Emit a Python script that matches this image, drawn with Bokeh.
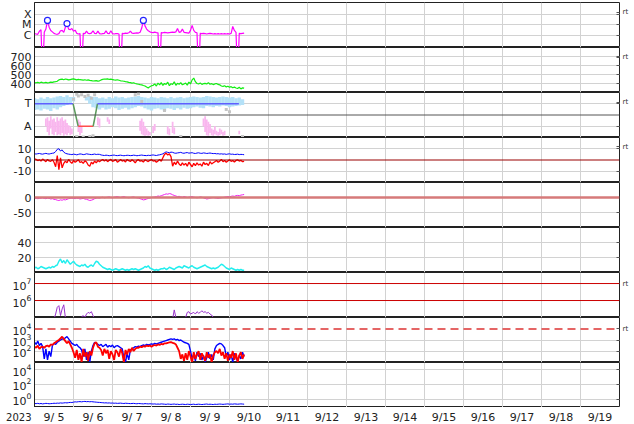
import numpy as np
from bokeh.plotting import figure
from bokeh.layouts import column
from bokeh.models import Range1d, FixedTicker, LinearAxis, Span
from bokeh.core.properties import value
from bokeh.embed import file_html
from bokeh.resources import INLINE

FONT = "DejaVu Sans"
nan = float("nan")

# ---------------- data ----------------
# x axis = day of September 2023; series are hourly samples from 9/5 00 UT
first_day = 5.0
x_start, x_end = 5.0, 20.0
grid_days = [6, 7, 8, 9, 10, 11, 12, 13, 14, 15, 16, 17, 18, 19]
label_days = [5.5, 6.5, 7.5, 8.5, 9.5, 10.5, 11.5, 12.5, 13.5, 14.5, 15.5, 16.5, 17.5, 18.5, 19.5]
day_labels = ["9/ 5", "9/ 6", "9/ 7", "9/ 8", "9/ 9", "9/10", "9/11", "9/12", "9/13",
              "9/14", "9/15", "9/16", "9/17", "9/18", "9/19"]
year_text = "2023"

# panel 1: X-ray flux (micro W/m2, 1 = C1); 0.0001 = data drop
xray_uW = [1.5, 1.4, 1.3, 2.5, 3.5, 0.0001, 2.0, 4.0, 26, 6, 3.0, 2.2, 1.6, 1.4, 1.3, 1.5, 2.8, 3.0, 2.0, 6,
           13, 4.0, 3.5, 4.5, 2.5, 3.2, 1.6, 1.4, 1.5, 0.0001, 1.6, 1.5, 2.6, 1.6, 1.5, 1.7, 2.8, 1.6, 1.5, 2.6,
           1.5, 1.4, 1.5, 1.6, 2.7, 1.6, 1.5, 2.8, 1.5, 1.4, 1.5, 1.5, 1.4, 0.0001, 1.6, 1.5, 1.7, 1.6, 1.8, 2.6,
           1.7, 1.6, 1.7, 1.8, 1.7, 2.0, 5, 26, 8, 4.0, 2.8, 2.2, 2.0, 1.9, 2.1, 1.9, 1.8, 0.0001, 1.9, 1.8,
           2.0, 1.9, 1.8, 1.9, 2.0, 2.1, 2.0, 2.2, 4.5, 2.0, 2.2, 4.0, 2.0, 1.9, 1.8, 1.7, 3.0, 9, 3.0, 2.0,
           1.8, 0.0001, 1.6, 1.5, 1.6, 1.5, 1.4, 1.5, 1.6, 1.5, 1.4, 1.5, 1.4, 1.5, 1.4, 1.5, 1.4, 1.5, 1.4, 1.5,
           1.4, 1.6, 7, 3, 2, 0.0001, 1.6, 1.5, 1.6, 1.7]
flare_hour = [8, 20, 67]
flare_uW = [26, 13, 26]
xray_ticks = [1e-6, 1e-5, 1e-4]
xray_labels = ["C", "M", "X"]

# panel 2: solar wind speed (km/s)
speed = [410, 408, 412, 405, 415, 410, 408, 412, 406, 410, 415, 412, 418, 420, 425,
         440, 445, 448, 442, 450, 446, 440, 444, 448, 452, 446, 440, 445, 442,
         440, 438, 442, 436, 440, 435, 432, 428, 430, 432, 426, 430,
         440, 445, 450, 448, 452, 445, 448, 444, 440, 438, 442, 436,
         430, 428, 425, 420, 418, 412, 410, 405, 408, 400,
         395, 392, 388, 385, 378, 372, 360, 350, 365, 375,
         380, 395, 372, 405, 385, 410, 378, 400, 390, 415, 375, 398, 388, 420, 380, 402, 392, 410,
         385, 395, 405, 382, 415, 395, 440, 460, 420, 400,
         395, 405, 390, 398, 402, 395, 410, 392, 398, 388, 395, 400, 390, 385,
         372, 368, 375, 362, 370, 358, 365, 352, 360, 350, 345, 358, 340, 352, 348]
speed_ticks = [400, 500, 600, 700]

# panel 3: IMF sector (T = toward = 1, A = away = -1)
sector_day = [5.0, 5.99, 6.12, 6.505, 6.615, 10.24]
sector_val = [1, 1, -1, -1, 1, 1]
sector_ticks = [-1, 1]
sector_labels = ["A", "T"]
# toward-angle cloud, 2-hourly extent
toward_hi = [1.5, 1.4, 1.55, 1.45, 1.6, 1.5, 1.55, 1.65, 1.7, 1.6, 1.75, 1.6,
             1.6, nan, nan, nan, 1.6, 1.7, 1.6,
             1.6, 1.5, 1.55, 1.45, 1.6, 1.5, 1.65, 1.55, 1.6, 1.5,
             1.55, 1.6, 1.65, 1.7, 1.6, 1.55, 1.5, 1.6, 1.55, 1.5,
             1.6, 1.55, 1.5, 1.6, 1.5, 1.55, 1.6, 1.5, 1.55, 1.6,
             1.65, 1.6, 1.55, 1.6, 1.7, 1.65, 1.6, 1.55, 1.6, 1.65,
             1.6, 1.55, 1.6, 1.5, 1.55, 1.4]
toward_lo = [0.45, 0.5, 0.4, 0.55, 0.5, 0.35, 0.6, 0.5, 0.7, 0.8, 0.9, 1.0,
             1.2, nan, nan, nan, 1.3, 1.0, 0.7,
             0.6, 0.5, 0.65, 0.5, 0.55, 0.7, 0.6, 0.45, 0.55, 0.65,
             0.5, 0.6, 0.7, 0.8, 0.75, 0.6, 0.5, 0.4, 0.55, 0.6,
             0.5, 0.35, 0.6, 0.55, 0.45, 0.6, 0.5, 0.65, 0.55, 0.6,
             0.7, 0.75, 0.65, 0.6, 0.8, 0.75, 0.7, 0.8, 0.75, 0.85,
             0.8, 0.7, 0.75, 0.8, 0.85, 0.9]
# away-angle cloud, hourly extent
away_hour = [7, 8, 9, 10, 11, 12, 13, 14, 15, 16, 17, 18, 19, 20, 21, 22, 23,
             27, 28, 29, 39, 40, 45, 46,
             65, 66, 67, 68, 69, 70, 71, 73, 74, 82, 83, 85, 86,
             104, 105, 106, 107, 108, 109, 110, 111, 112, 113, 114, 115, 116, 117, 126]
away_hi = [-0.3, -0.2, -0.5, -0.1, -0.4, -0.3, -0.6, -0.2, -0.5, -0.3, -0.2, -0.5, -0.4, -0.7, -0.9, -1.0, -1.2,
           -0.4, -0.6, -1.0, -0.2, -0.3, -0.2, -0.4,
           -0.5, -0.3, -0.6, -1.0, -1.2, -1.4, -1.5, -1.0, -0.8, -1.0, -1.2, -0.6, -1.1,
           -0.3, -0.1, -0.4, -0.6, -0.8, -1.2, -1.3, -1.0, -1.4, -1.5, -1.2, -1.3, -1.5, -1.4, -1.4]
away_lo = [-1.0, -1.5, -1.8, -1.2, -1.7, -1.8, -1.5, -1.8, -1.7, -1.8, -1.6, -1.85, -1.7, -1.8, -1.6, -1.8, -1.7,
           -1.5, -1.8, -1.6, -0.9, -1.1, -0.6, -0.8,
           -1.4, -1.7, -1.8, -1.85, -1.8, -1.85, -1.8, -1.6, -1.4, -1.7, -1.8, -1.6, -1.7,
           -1.0, -1.5, -1.8, -1.85, -1.6, -1.8, -1.85, -1.7, -1.8, -1.85, -1.8, -1.7, -1.85, -1.8, -1.7]
other_hour = [24, 26, 27, 29, 31, 33, 35, 37, 62, 64, 66, 80, 118, 120, 26, 30, 34, 36, 90, 128]
other_val = [1.4, -1.9, 1.7, 1.8, 1.65, 1.75, 1.5, 1.8, 1.8, 1.9, 1.2, 0.4, 0.5, 0.3, 1.85, -1.95, -1.9, -1.85, -1.9, -1.9]

# panel 4: IMF Bt and Bz (nT)
bt = [5.5, 5.3, 5.6, 5.8, 5.4, 5.2, 5.6, 5.9, 5.5, 5.3, 5.7, 6.0, 6.2,
      7.5, 9.5, 10.0, 8.0, 9.0, 7.0,
      6.0, 5.5, 5.2, 5.0, 4.8, 5.2, 5.0, 4.6, 5.0, 5.4, 5.2, 4.8, 5.0, 5.5, 5.2, 5.0, 4.8, 5.0, 5.3, 4.9, 5.1, 5.0,
      4.5, 4.2, 4.0, 4.3, 4.1, 3.8, 4.0, 4.2, 4.4, 4.0, 3.9, 4.1, 4.3, 4.0, 3.8, 4.0, 4.2, 4.1, 3.9, 4.0, 4.3,
      4.1, 3.8, 4.0, 4.2, 4.4, 4.1, 4.0, 3.9, 4.2, 4.0, 4.3, 4.5, 4.2, 4.0, 4.4, 4.6, 5.0, 5.5, 6.5, 7.2, 6.8,
      6.5, 7.0, 6.8, 6.2, 6.0, 6.3, 6.5, 6.8, 6.2, 6.0, 6.4, 6.6, 6.1, 6.3, 6.5, 6.0, 5.8, 6.2, 6.4, 6.0, 5.9,
      6.3, 6.1, 5.8, 6.0, 6.2, 5.9, 5.7,
      5.8, 5.5, 5.6, 5.3, 5.5, 5.2, 5.4, 5.0, 5.3, 5.5, 5.1, 5.2, 4.9, 5.0, 5.2, 4.8, 5.0, 4.9, 4.7]
bz = [1.0, 0.5, -0.5, 0.2, -1.0, 0.8, -0.3, -1.5, 0.5, -0.8, -1.2, 0.3, -2.0,
      -6.0, 4.0, -8.5, 2.0, -7.0, -3.0,
      -1.0, -2.5, 0.5, -1.5, -3.0, -0.5, -2.0, -1.0, 0.3, -2.2, -1.5, -3.0, -0.8, -1.8, -4.5, -5.5, -2.0, -3.5,
      -1.0, -2.5, -0.5, -1.5,
      -0.5, 0.5, -1.0, 0.2, -1.5, -0.3, 0.6, -1.2, -0.5, 0.3, -2.0, -0.8, 0.4, -1.0, -0.2, -1.8, 0.5, -0.6, -1.3,
      0.2, -0.9, -2.5, -0.4, 0.3, -1.1, -0.6, -1.8, 0.1, -0.7, -1.4, -0.3, 0.4, -1.0, -0.5, -2.0, -0.8, 0.5,
      -1.2, 2.0, 5.0, 6.0, 4.5,
      5.5, 3.0, -5.5, -2.0, -4.0, -1.0, -3.5, -5.0, -2.5, -4.5, -3.0, -5.5, -2.0, -4.0, -6.0, -3.0, -5.0, -2.5,
      -4.5, -3.5, -5.5, -2.0, -4.0, -3.0, -5.0, -1.5, -3.5, -2.5,
      -1.5, -0.5, -2.0, -1.0, 0.5, -1.5, -0.5, -2.0, -0.8, 0.3, -1.2, -0.5, -1.8, -0.4, 0.2, -1.0, -0.3, -1.5, -1.2]
imf_ticks = [-10, 0, 10]

# panel 5: Dst (nT)
dst = [-3, -2, -4, -3, -2, -1, -3, -4, -2, -3, -5, -4, -6, -7, -9, -10, -8, -9, -7, -8, -6,
       -4, -3, -2, -3, -4, -2, -3, -5, -4, -3, -5, -6, -8, -10, -9, -7, -4, -2, -1, -2,
       0, 1, -1, 0, 1, 2, 0, -1, 1, 2, 3, 1, 0, 2, 3, 1, 0, -1, 0, 1, 2, 0, -1, -2, -4,
       -6, -8, -7, -5, -3, -2, 0, 1, 2, 3, 5, 4, 6,
       8, 10, 12, 11, 13, 12, 9, 7, 5, 3, 4, 2, 1, 3, 2, 0, 1,
       2, 3, 1, 0, -1, 0, 2, 1, -1, -3, -5, -4, -2, -1, 0, -1, -2, -3, -2, -1,
       0, 1, 2, 3, 2, 4, 5, 4, 6, 7, 6, 8, 9, 10]
dst_ticks = [-50, 0]

# panel 6: solar wind density (/cc)
dens = [6, 7, 5, 6, 8, 7, 6, 5, 6, 7, 6, 8, 7, 9, 10,
        15, 18, 13, 16, 12, 17, 14, 11, 13, 15, 12, 10,
        9, 8, 10, 9, 11, 8, 7, 9, 10, 8,
        12, 15, 14, 11, 9, 7, 6, 5,
        4, 5, 4, 3, 4, 5, 4, 3, 4, 5, 4, 3, 4, 3, 4, 5, 4, 5, 4, 3, 4, 5, 6,
        8, 7, 9, 6, 5, 4, 3, 4, 3, 4, 5,
        5, 6, 4, 5, 7, 6, 5, 4, 6, 7, 8, 7, 6, 9, 8, 7, 6, 8, 9, 7, 6, 5, 6, 7, 8, 9, 10, 8, 7, 6, 5, 6,
        5, 6, 7, 9, 11, 10, 8, 6, 5, 4, 6, 5, 4, 3, 4, 3, 4, 3, 3]
dens_ticks = [20, 40]

# panel 7: >2 MeV electron flux
elec = [5e4, 5e4, 5e4, 5e4, 5e4, 5e4, 5e4, 5e4, 5e4, 5e4, 5e4, 5e4,
        8e4, 1.6e5, 4e5, 5e5, 1.3e5, 3.2e5, 5.6e5, 1e5, 5e4,
        5e4, 5e4, 5e4, 5e4, 5e4, 5e4, 5e4, 5e4,
        1.1e5, 1.3e5, 1.0e5, 1.6e5, 2.0e5, 1.8e5, 2.2e5, 1.3e5, 8e4,
        5e4, 5e4, 5e4, 5e4, 5e4, 5e4, 5e4, 5e4, 5e4, 5e4, 1.05e5, 5e4, 5e4, 5e4, 5e4, 5e4,
        5e4, 5e4, 5e4, 5e4, 5e4, 5e4, 5e4, 5e4, 5e4, 5e4, 1.05e5, 5e4, 5e4, 5e4, 5e4, 5e4,
        5e4, 5e4, 5e4, 5e4, 5e4, 5e4, 5e4, 5e4, 5e4, 5e4, 5e4, 5e4, 5e4, 5e4, 5e4,
        8e4, 2.8e5, 1e5,
        5e4, 5e4, 5e4, 5e4, 5e4,
        1.0e5, 2.0e5, 2.2e5, 1.6e5, 1.8e5, 2.0e5, 1.6e5, 2.2e5, 1.8e5, 2.0e5, 2.5e5, 2.0e5, 2.2e5, 1.8e5,
        2.0e5, 1.6e5, 1.4e5, 1.0e5, 8e4,
        5e4, 5e4, 5e4, 5e4, 5e4, 5e4, 5e4, 5e4, 5e4, 5e4, 5e4, 5e4, 5e4, 5e4, 5e4, 5e4, 5e4, 5e4]
elec_ticks = [1e6, 1e7]

# panel 8: proton flux, two channels
prot_red = [251, 200, 316, 158, 224, 251, 200, 282,
            316, 251, 398, 355, 501, 631, 794, 1000,
            1413, 1995, 1259, 794, 501, 794, 398, 200,
            79, 25, 126, 16, 63, 10, 158, 32, 79, 13, 100, 40, 200, 501,
            631, 251, 200, 126, 40, 158,
            63, 126, 20, 100, 50, 16, 126, 79, 32, 158, 63, 10, 126, 50, 158, 79, 200, 100, 158, 200,
            200, 251, 224, 282, 251, 316, 282, 316, 251, 316, 355, 316, 398, 355, 447, 398, 501,
            501, 562, 600, 631, 562, 501, 398, 200, 100, 20, 50, 13,
            63, 16, 100, 32, 10, 79, 20, 50, 100, 16, 63, 32, 13, 79, 25, 50, 10, 40,
            79, 100, 63, 158, 40, 79, 20, 63, 13, 50, 25, 100, 16, 63, 10, 40, 79, 20, 50]
prot_blue = [631, 398, 794, 316, 501, 251, 20, 158,
             16, 100, 32, 316, 501, 398, 631, 794,
             1000, 1259, 1122, 1585, 1995, 1259,
             794, 501, 398, 316, 398, 251, 200, 126, 32, 158,
             16, 79, 10, 100, 316, 631,
             501, 398, 316, 398, 251, 316, 398, 224, 316, 251, 355, 200, 282, 316, 251, 200, 158, 25, 10, 63, 16, 126,
             158, 200, 251, 224, 282, 251, 316, 355, 316, 398, 355, 398, 447, 398, 501, 447, 501, 562,
             631, 708, 794, 891, 1000, 1122, 1259, 1122, 1259, 1000, 1122, 891, 1000, 794, 631, 562, 501, 398, 100,
             20, 50, 13, 79, 32, 63, 16, 40, 10, 25, 79, 20, 50, 16,
             158, 316, 398, 501, 447, 316, 200, 32, 79, 16, 50, 10, 63, 25, 13, 40, 20, 79, 32]
prot_ticks = [1e2, 1e3, 1e4]
prot_alert = 1e4

# panel 9: low-level flux
p9 = [0.25, 0.24, 0.26, 0.23, 0.25, 0.22, 0.24, 0.26, 0.25, 0.23, 0.24, 0.25, 0.27, 0.26, 0.28, 0.27, 0.3, 0.28,
      0.3, 0.32, 0.3, 0.33, 0.35, 0.34,
      0.38, 0.42, 0.4, 0.44, 0.45, 0.42, 0.46, 0.48, 0.44, 0.46, 0.43, 0.45, 0.42, 0.4, 0.38, 0.36, 0.35,
      0.33, 0.32, 0.3, 0.31, 0.29, 0.3, 0.28, 0.29, 0.27, 0.28, 0.26, 0.27, 0.28, 0.26, 0.25, 0.27, 0.26, 0.25,
      0.24, 0.25, 0.26, 0.24, 0.23, 0.25, 0.24, 0.23, 0.22, 0.24, 0.23, 0.22, 0.23, 0.22,
      0.21, 0.22, 0.2, 0.21, 0.2, 0.22, 0.21, 0.2, 0.19, 0.21, 0.2, 0.19, 0.2, 0.21, 0.19, 0.2, 0.18, 0.19, 0.2,
      0.19, 0.18, 0.2, 0.19, 0.18, 0.19, 0.2, 0.18, 0.19, 0.2, 0.19, 0.18, 0.19, 0.2, 0.21, 0.19, 0.2, 0.19, 0.18,
      0.2, 0.19, 0.2, 0.21, 0.2, 0.19, 0.2, 0.21, 0.22, 0.2, 0.21, 0.2, 0.22, 0.21, 0.2, 0.21, 0.22, 0.21, 0.2]
p9_ticks = [1e0, 1e2, 1e4]

rt_text = "rt"

# ---------------- layout constants ----------------
FRAME_W = 585
BORDER_L = 30
BORDER_R = 14
LABEL_ROW_Y = 0.43      # vertical spot of the date row inside the label strip


def hours(vals, step=1.0):
    return first_day + np.arange(len(vals)) * step / 24.0


def at_hours(hlist):
    return first_day + np.asarray(hlist, dtype=float) / 24.0


xr = Range1d(x_start, x_end)
GRID = "#d2d2d2"


def panel(yr, ytype="linear", ticks=(), labels=None, grid=None, rt=None):
    p = figure(x_range=xr, y_range=yr, y_axis_type=ytype, frame_width=FRAME_W, frame_height=45,
               min_border_left=BORDER_L, min_border_right=BORDER_R, min_border_top=0, min_border_bottom=0,
               x_axis_location=None, output_backend="svg", toolbar_location=None)
    p.outline_line_color = "#222222"
    p.outline_line_width = 1
    p.outline_line_alpha = 1.0
    ax = p.yaxis[0]
    ax.ticker = FixedTicker(ticks=list(ticks))
    if labels is not None:
        ax.major_label_overrides = {t: l for t, l in zip(ticks, labels)}
    ax.major_label_text_font = FONT
    ax.major_label_text_font_size = "11px"
    ax.major_label_text_color = "#222222"
    ax.major_tick_out = 0
    ax.major_tick_in = 0
    ax.minor_tick_out = 0
    ax.minor_tick_in = 0
    ax.axis_line_color = "#222222"
    ax.major_label_standoff = 3
    gticks = list(grid if grid is not None else ticks)
    p.ygrid.ticker = FixedTicker(ticks=gticks)
    p.ygrid.grid_line_color = GRID
    p.xgrid.ticker = FixedTicker(ticks=grid_days)
    p.xgrid.grid_line_color = GRID
    # right side: small inward ticks and the "rt" tag
    rticks = list(gticks)
    over = {t: "" for t in gticks}
    if rt is not None:
        rticks.append(rt)
        over[rt] = rt_text
    ra = LinearAxis(ticker=FixedTicker(ticks=rticks), major_label_overrides=over)
    ra.axis_line_color = None
    ra.major_tick_in = 3
    ra.major_tick_out = 0
    ra.minor_tick_in = 0
    ra.minor_tick_out = 0
    ra.major_tick_line_color = "#555555"
    ra.major_label_standoff = 3
    ra.major_label_text_font = FONT
    ra.major_label_text_font_size = "7px"
    ra.major_label_text_color = "#333333"
    p.add_layout(ra, "right")
    return p


panels = []

# 1: X-ray
p1 = panel(Range1d(10 ** -7.12, 10 ** -2.91), "log", xray_ticks, xray_labels, rt=1.5e-4)
p1.line(hours(xray_uW), np.array(xray_uW) * 1e-6, line_color="#ff00ff", line_width=1.2)
p1.scatter(at_hours(flare_hour), np.array(flare_uW) * 1e-6, marker="circle", size=6,
           line_color="#2222ff", fill_color="white", line_width=1.2)
panels.append(p1)

# 2: speed
p2 = panel(Range1d(300, 800), "linear", speed_ticks, [str(v) for v in speed_ticks], rt=692)
p2.line(hours(speed), speed, line_color="#11ee11", line_width=1.2)
panels.append(p2)

# 3: sector
p3 = panel(Range1d(-2, 2), "linear", sector_ticks, sector_labels, rt=1.14)
p3.add_layout(Span(location=0, dimension="width", line_color="#555555", line_width=1))
tb = hours(toward_hi, 2.0)
p3.segment(tb, toward_lo, tb, toward_hi, line_color="#b4e1f8", line_width=3.4)
ta = at_hours(away_hour)
p3.segment(ta, away_lo, ta, away_hi, line_color="#f9b6ee", line_width=1.8)
p3.scatter(at_hours(other_hour), other_val, marker="square", size=3, line_color=None,
           fill_color="#c4c4c4")
sx0, sx1, sy0, sy1, scol = [], [], [], [], []
for i in range(len(sector_day) - 1):
    sx0.append(sector_day[i]); sx1.append(sector_day[i + 1])
    sy0.append(sector_val[i]); sy1.append(sector_val[i + 1])
    if sector_val[i] == sector_val[i + 1]:
        scol.append("#5f5fff" if sector_val[i] > 0 else "#ff4d4d")
    else:
        scol.append("#5c9a5c")
p3.segment(sx0, sy0, sx1, sy1, line_color=scol, line_width=1.5)
panels.append(p3)

# 4: IMF
p4 = panel(Range1d(-20, 20), "linear", imf_ticks, [str(v) for v in imf_ticks], grid=[-10, 10], rt=12)
p4.add_layout(Span(location=0, dimension="width", line_color="#990000", line_width=1))
p4.line(hours(bt), bt, line_color="#0000ff", line_width=1)
p4.line(hours(bz), bz, line_color="#ff0000", line_width=1.3)
panels.append(p4)

# 5: Dst
p5 = panel(Range1d(-100, 50), "linear", dst_ticks, [str(v) for v in dst_ticks], grid=[-50])
p5.add_layout(Span(location=0, dimension="width", line_color="#d67a7a", line_width=2.5))
p5.line(hours(dst), dst, line_color="#ee22ee", line_width=1)
panels.append(p5)

# 6: density
p6 = panel(Range1d(0, 60), "linear", dens_ticks, [str(v) for v in dens_ticks])
p6.line(hours(dens), dens, line_color="#22eeee", line_width=1.4)
panels.append(p6)

# 7: electrons
p7 = panel(Range1d(1e5, 10 ** 7.65), "log", elec_ticks, None, grid=[], rt=10 ** 6.99)
for v in elec_ticks:
    p7.add_layout(Span(location=v, dimension="width", line_color="#cc0000", line_width=1))
p7.line(hours(elec), elec, line_color="#9933cc", line_width=1)
panels.append(p7)

# 8: protons
p8 = panel(Range1d(10 ** 0.97, 10 ** 5.03), "log", prot_ticks, None, grid=[1e2, 1e3], rt=1e4)
p8.add_layout(Span(location=prot_alert, dimension="width", line_color="#dd3333", line_width=1.5,
                   line_dash="8 5"))
p8.line(hours(prot_blue), prot_blue, line_color="#0000ff", line_width=1.4)
p8.line(hours(prot_red), prot_red, line_color="#ff0000", line_width=1.8)
panels.append(p8)

# 9: low flux
p9f = panel(Range1d(10 ** -1.15, 10 ** 5.0), "log", p9_ticks, None)
p9f.line(hours(p9), p9, line_color="#0000ff", line_width=1)
panels.append(p9f)

# label strip: dates as text in the strip, the year as its left-axis label
pd = figure(x_range=xr, y_range=Range1d(0, 1), frame_width=FRAME_W, frame_height=17,
            min_border_left=BORDER_L, min_border_right=BORDER_R, min_border_top=0, min_border_bottom=0,
            x_axis_location=None, output_backend="svg", toolbar_location=None)
pd.outline_line_color = None
pd.grid.visible = False
ya = pd.yaxis[0]
ya.ticker = FixedTicker(ticks=[LABEL_ROW_Y])
ya.major_label_overrides = {LABEL_ROW_Y: year_text}
ya.axis_line_color = None
ya.major_tick_out = 0
ya.major_tick_in = 0
ya.minor_tick_out = 0
ya.minor_tick_in = 0
ya.major_label_standoff = 3
ya.major_label_text_font = FONT
ya.major_label_text_font_size = "10px"
ya.major_label_text_color = "#222222"
pd.text(x=label_days, y=[LABEL_ROW_Y] * len(label_days), text=day_labels,
        text_font=value(FONT), text_font_size="11px", text_color="#222222",
        text_align="center", text_baseline="middle")
panels.append(pd)

layout = column(*panels, spacing=0, margin=(2, 0, -6, 3))
open("out.html", "w").write(file_html(layout, INLINE))
